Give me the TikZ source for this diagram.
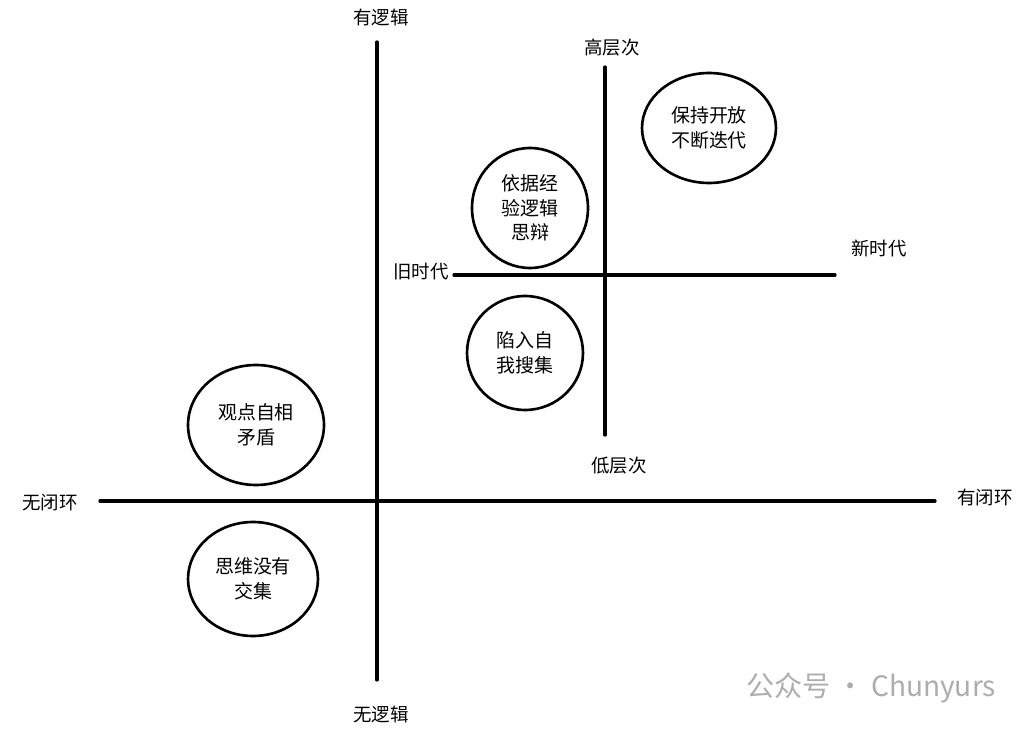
\documentclass[tikz,border=0pt]{standalone}
\usepackage{fontspec}
\setmainfont{Noto Sans CJK SC}
\usetikzlibrary{shapes.geometric}

\begin{document}
\begin{tikzpicture}[x=0.02cm,y=-0.02cm,
  axis/.style={line width=1.9pt,line cap=round},
  label/.style={font=\fontsize{10.5}{12}\selectfont,inner sep=1pt},
  bubble/.style={ellipse,draw,line width=1.5pt,align=center,inner sep=0pt,
    font=\fontsize{10.8}{14}\selectfont}]
  \useasboundingbox (0,0) rectangle (1028,729);

  % Axis labels
  \node[label] (logic)   at (381,17)  {有逻辑};
  \node[label] (nologic) at (381,714) {无逻辑};
  \node[label] (open)    at (50,503)  {无闭环};
  \node[label] (closed)  at (985,497) {有闭环};
  \node[label] (high)    at (612,48)  {高层次};
  \node[label] (low)     at (619,466) {低层次};
  \node[label] (old)     at (421,272) {旧时代};
  \node[label] (new)     at (879,248) {新时代};

  % Axis ends
  \coordinate (a1) at (377,42);
  \coordinate (a2) at (377,680);
  \coordinate (b1) at (100,501);
  \coordinate (b2) at (935,501);
  \coordinate (c1) at (605,67);
  \coordinate (c2) at (605,435);
  \coordinate (d1) at (454,275);
  \coordinate (d2) at (835,275);

  % Axes
  \draw[axis] (a1) -- (a2);
  \draw[axis] (b1) -- (b2);
  \draw[axis] (c1) -- (c2);
  \draw[axis] (d1) -- (d2);

  % Bubbles
  \node[bubble,minimum width=2.68cm,minimum height=2.2cm] (iterate) at (709,128) {保持开放\\不断迭代};
  \node[bubble,minimum width=2.32cm,minimum height=2.4cm] (reason) at (530,208) {依据经\\验逻辑\\思辩};
  \node[bubble,minimum width=2.32cm,minimum height=2.28cm] (gather) at (525,353) {陷入自\\我搜集};
  \node[bubble,minimum width=2.72cm,minimum height=2.4cm] (contra) at (256,425) {观点自相\\矛盾};
  \node[bubble,minimum width=2.6cm,minimum height=2.28cm] (noshare) at (253,579) {思维没有\\交集};

  % Watermark
  \node[text=black!32,font=\fontsize{16}{18}\selectfont] (mark) at (871,688) {公众号 · Chunyurs};
\end{tikzpicture}
\end{document}
